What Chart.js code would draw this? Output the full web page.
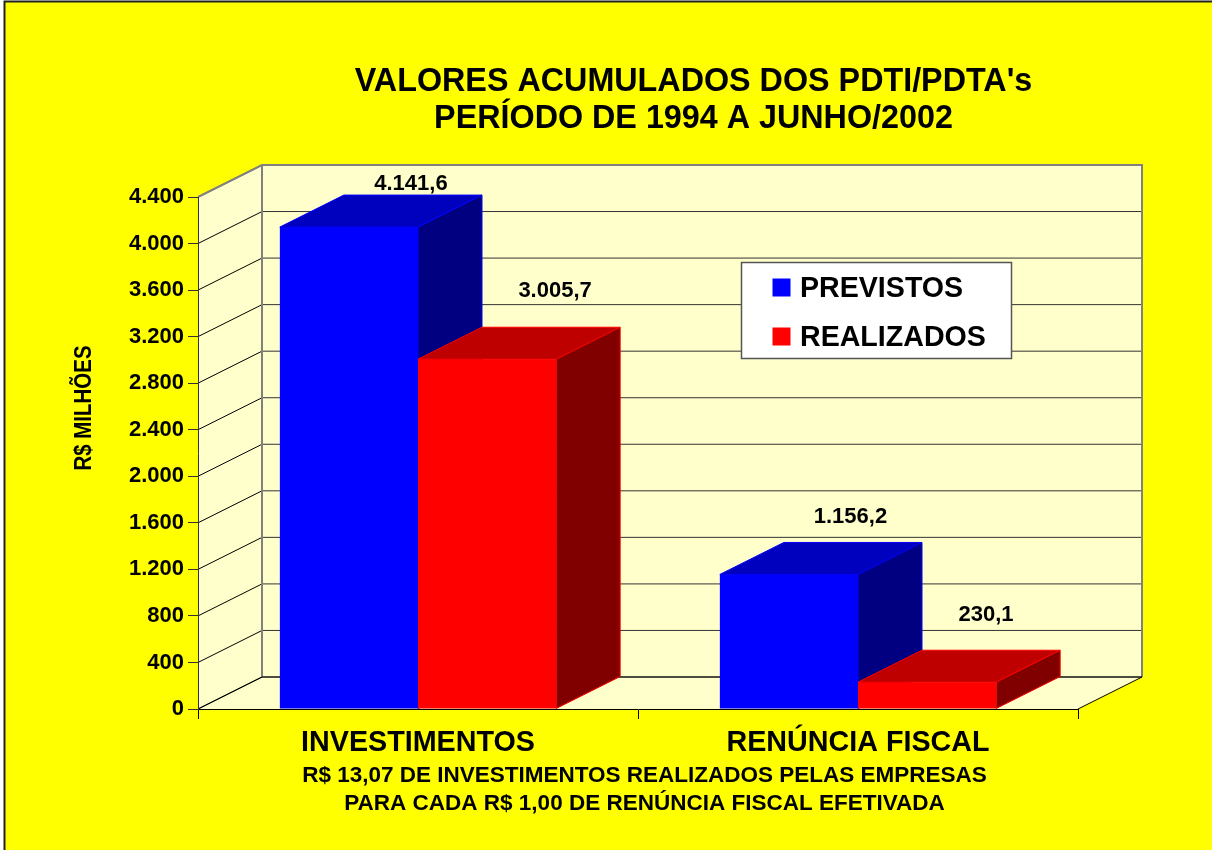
<!DOCTYPE html>
<html>
<head>
<meta charset="utf-8">
<title>PDTI/PDTA</title>
<script src="https://cdn.jsdelivr.net/npm/chart.js@4"></script>
<style>
  html, body { margin: 0; background: #fff; }
  canvas { display: block; }
</style>
</head>
<body>
<canvas id="chart" width="1212" height="850"></canvas>
<script>
/* ---- data ---- */
const categories = ['INVESTIMENTOS', 'RENÚNCIA FISCAL'];
const seriesNames = ['PREVISTOS', 'REALIZADOS'];
const previstos  = [4141.6, 1156.2];
const realizados = [3005.7, 230.1];
const titleLines = ['VALORES ACUMULADOS DOS PDTI/PDTA\'s', 'PERÍODO DE 1994 A JUNHO/2002'];
const footLines  = ['R$ 13,07 DE INVESTIMENTOS REALIZADOS PELAS EMPRESAS',
                    'PARA CADA R$ 1,00 DE RENÚNCIA FISCAL EFETIVADA'];
const yAxisName  = 'R$ MILHÕES';

/* ---- look of the 3D box ---- */
const FONT = '"Liberation Sans", Arial, sans-serif';
const DX = 64, DY = -32;          // depth of the box
const WALL = '#FFFFCC';
const FACES = [
  { front: '#0000FF', top: '#0000BF', side: '#000080' },
  { front: '#FF0000', top: '#BF0000', side: '#800000' }
];
// value labels were placed by hand in the original, offset from bar top centre
const LABEL_NUDGE = [[[62, -43], [61.5, -58]], [[68, -68], [59, -67]]];

const fmtTick = v => v.toLocaleString('pt-BR');
const fmtVal  = v => v.toLocaleString('pt-BR', { minimumFractionDigits: 1, maximumFractionDigits: 1 });

function poly (ctx, pts, fill, stroke) {
  ctx.beginPath();
  pts.forEach((p, i) => i ? ctx.lineTo(p[0], p[1]) : ctx.moveTo(p[0], p[1]));
  ctx.closePath();
  ctx.fillStyle = fill;
  ctx.fill();
  if (stroke) { ctx.strokeStyle = stroke; ctx.lineWidth = 1; ctx.stroke(); }
}

function text (ctx, str, x, y, size, align) {
  ctx.font = `bold ${size}px ${FONT}`;
  ctx.textAlign = align || 'center';
  ctx.textBaseline = 'middle';
  ctx.fillStyle = '#000';
  ctx.fillText(str, x, y);
}

/* ---- page, walls, floor, back grid ---- */
const boxPlugin = {
  id: 'box',
  beforeDraw (chart) {
    const { ctx, chartArea: a, scales: { y } } = chart;
    ctx.save();
    ctx.fillStyle = '#FFFF00';
    ctx.fillRect(5, 2, chart.width - 5, chart.height - 2);
    ctx.strokeStyle = '#222';
    ctx.lineWidth = 2;
    ctx.beginPath();
    ctx.moveTo(4.5, chart.height);
    ctx.lineTo(4.5, 1.5);
    ctx.lineTo(chart.width, 1.5);
    ctx.stroke();

    const L = a.left, R = a.right, T = a.top, B = a.bottom;
    poly(ctx, [[L, B], [L + DX, B + DY], [L + DX, T + DY], [L, T]], WALL);
    poly(ctx, [[L + DX, T + DY], [R + DX, T + DY], [R + DX, B + DY], [L + DX, B + DY]], WALL);
    poly(ctx, [[L, B], [L + DX, B + DY], [R + DX, B + DY], [R, B]], WALL);

    ctx.lineWidth = 1;
    y.ticks.forEach(t => {
      const py = y.getPixelForValue(t.value);
      ctx.strokeStyle = '#000';
      ctx.beginPath();
      ctx.moveTo(L, py);
      ctx.lineTo(L + DX, py + DY);
      ctx.stroke();
      ctx.strokeStyle = '#333';
      ctx.beginPath();
      ctx.moveTo(L + DX, py + DY);
      ctx.lineTo(R + DX, py + DY);
      ctx.stroke();
    });
    ctx.strokeStyle = '#808080';
    ctx.lineWidth = 2;
    ctx.beginPath();
    ctx.moveTo(L, T);
    ctx.lineTo(L + DX, T + DY);
    ctx.lineTo(R + DX, T + DY);
    ctx.lineTo(R + DX, B + DY);
    ctx.moveTo(L + DX, T + DY);
    ctx.lineTo(L + DX, B + DY);
    ctx.stroke();
    ctx.strokeStyle = '#000';
    ctx.lineWidth = 1;
    ctx.beginPath();
    ctx.moveTo(L, B);
    ctx.lineTo(L + DX, B + DY);
    ctx.lineTo(R + DX, B + DY);
    ctx.lineTo(R, B);
    ctx.stroke();
    ctx.restore();
  },

  /* top and side of every bar, the library draws the front afterwards */
  beforeDatasetsDraw (chart) {
    const { ctx } = chart;
    ctx.save();
    chart.data.datasets.forEach((ds, i) => {
      chart.getDatasetMeta(i).data.forEach(bar => {
        const l = bar.x - bar.width / 2, r = bar.x + bar.width / 2, t = bar.y, b = bar.base;
        const c = FACES[i];
        poly(ctx, [[l, t], [l + DX, t + DY], [r + DX, t + DY], [r, t]], c.top, c.front);
        poly(ctx, [[r, t], [r + DX, t + DY], [r + DX, b + DY], [r, b]], c.side, c.front);
      });
    });
    ctx.restore();
  },

  /* value labels, legend, free text */
  afterDatasetsDraw (chart) {
    const { ctx } = chart;
    ctx.save();
    chart.data.datasets.forEach((ds, i) => {
      chart.getDatasetMeta(i).data.forEach((bar, j) => {
        const n = LABEL_NUDGE[i][j];
        text(ctx, fmtVal(ds.data[j]), bar.x + n[0], bar.y + n[1], 22);
      });
    });

    ctx.fillStyle = '#fff';
    ctx.fillRect(741.5, 262.5, 270, 96);
    ctx.strokeStyle = '#555';
    ctx.lineWidth = 1.5;
    ctx.strokeRect(741.5, 262.5, 270, 96);
    chart.data.datasets.forEach((ds, i) => {
      const cy = 287.5 + i * 49;
      ctx.fillStyle = ds.backgroundColor;
      ctx.fillRect(772.5, cy - 9, 18, 18);
      text(ctx, ds.label, 800, cy + 1.5, 28.6, 'left');
    });

    titleLines.forEach((s, i) => text(ctx, s, 693.5, 82 + i * 37, 32.3));
    footLines.forEach((s, i) => text(ctx, s, 644.5, 776 + i * 28, 22.5));

    // the axis name is a little squeezed along its length in the original
    ctx.translate(85, 408);
    ctx.rotate(-Math.PI / 2);
    ctx.scale(0.89, 1);
    text(ctx, yAxisName, 0, 0, 23);
    ctx.restore();
  }
};

/* ---- chart ---- */
new Chart(document.getElementById('chart'), {
  type: 'bar',
  data: {
    labels: categories,
    datasets: [
      { label: seriesNames[0], data: previstos,  backgroundColor: FACES[0].front },
      { label: seriesNames[1], data: realizados, backgroundColor: FACES[1].front }
    ]
  },
  options: {
    responsive: false,
    animation: false,
    layout: { padding: { top: 197, right: 134 } },
    categoryPercentage: 0.628,
    barPercentage: 1,
    plugins: { legend: { display: false }, tooltip: { enabled: false } },
    scales: {
      x: {
        afterFit: s => { s.height = 141; },
        border: { color: '#000' },
        grid: { drawOnChartArea: false, tickLength: 10, tickColor: '#000' },
        ticks: { color: '#000', padding: 7, maxRotation: 0, font: { family: FONT, weight: 'bold', size: 28.7 } }
      },
      y: {
        min: 0, max: 4400,
        afterFit: s => { s.width = 198; },
        border: { color: '#333' },
        grid: { drawOnChartArea: false, tickLength: 10, tickColor: '#333' },
        ticks: { stepSize: 400, color: '#000', padding: 4, callback: fmtTick,
                 font: { family: FONT, weight: 'bold', size: 22 } }
      }
    }
  },
  plugins: [boxPlugin]
});
</script>
</body>
</html>
